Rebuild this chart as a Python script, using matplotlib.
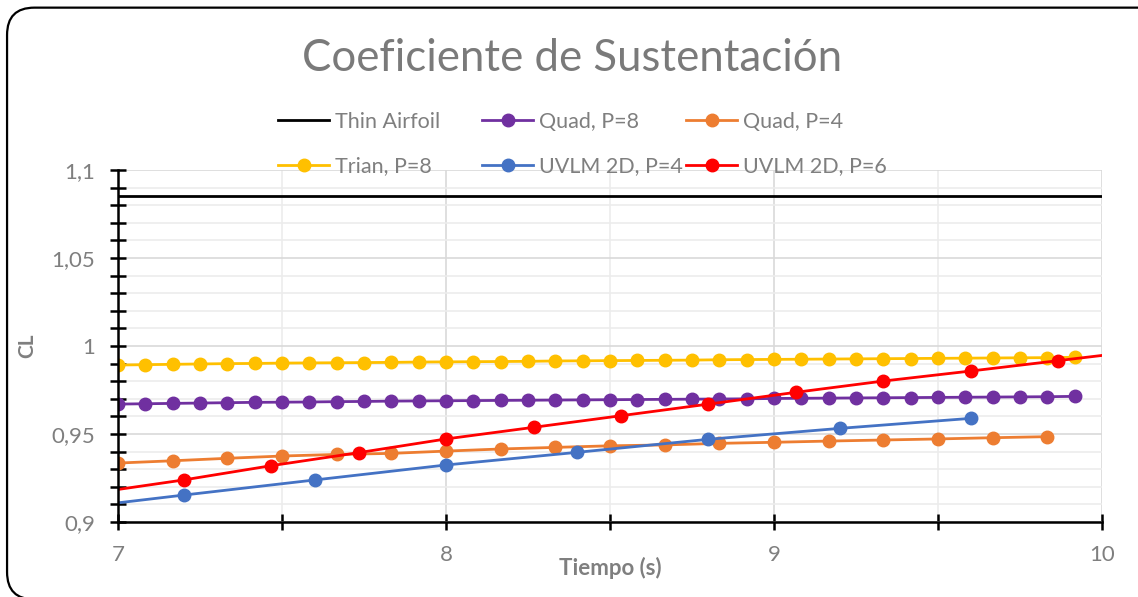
import matplotlib
matplotlib.use("Agg")
import matplotlib.pyplot as plt
from matplotlib.patches import FancyBboxPatch
from matplotlib.ticker import MultipleLocator, FixedLocator

# Coeficiente de sustentacion CL vs tiempo

thin_x = [7.0, 10.0]
thin_cl = [1.0852, 1.0852]

# Quad P=8 y Trian P=8 (paso 1/12)
p8_x = [7.000, 7.083, 7.167, 7.250, 7.333, 7.417, 7.500, 7.583, 7.667, 7.750,
        7.833, 7.917, 8.000, 8.083, 8.167, 8.250, 8.333, 8.417, 8.500, 8.583,
        8.667, 8.750, 8.833, 8.917, 9.000, 9.083, 9.167, 9.250, 9.333, 9.417,
        9.500, 9.583, 9.667, 9.750, 9.833, 9.917]
quad8_cl = [0.9670, 0.9672, 0.9674, 0.9676, 0.9678, 0.9680, 0.9681, 0.9682, 0.9684, 0.9685,
            0.9687, 0.9688, 0.9689, 0.9690, 0.9691, 0.9692, 0.9693, 0.9694, 0.9695, 0.9696,
            0.9697, 0.9698, 0.9699, 0.9700, 0.9702, 0.9703, 0.9704, 0.9705, 0.9706, 0.9707,
            0.9708, 0.9709, 0.9710, 0.9711, 0.9712, 0.9714]
trian8_cl = [0.9892, 0.9894, 0.9896, 0.9898, 0.9900, 0.9901, 0.9903, 0.9904, 0.9905, 0.9906,
             0.9907, 0.9909, 0.9910, 0.9911, 0.9912, 0.9913, 0.9915, 0.9916, 0.9917, 0.9918,
             0.9919, 0.9920, 0.9922, 0.9923, 0.9924, 0.9925, 0.9926, 0.9927, 0.9928, 0.9929,
             0.9930, 0.9931, 0.9932, 0.9933, 0.9934, 0.9936]

# Quad P=4 (paso 1/6)
quad4_x = [7.000, 7.167, 7.333, 7.500, 7.667, 7.833, 8.000, 8.167, 8.333, 8.500,
           8.667, 8.833, 9.000, 9.167, 9.333, 9.500, 9.667, 9.833]
quad4_cl = [0.9335, 0.9348, 0.9362, 0.9375, 0.9384, 0.9390, 0.9403, 0.9415, 0.9424, 0.9433,
            0.9438, 0.9447, 0.9453, 0.9460, 0.9466, 0.9472, 0.9479, 0.9485]

# UVLM 2D
uvlm4_x = [6.8, 7.2, 7.6, 8.0, 8.4, 8.8, 9.2, 9.6]
uvlm4_cl = [0.9065, 0.9153, 0.9239, 0.9324, 0.9396, 0.9470, 0.9532, 0.9589]

uvlm6_x = [6.9333, 7.2, 7.4667, 7.7333, 8.0, 8.2667, 8.5333, 8.8, 9.0667,
           9.3333, 9.6, 9.8667, 10.1333]
uvlm6_cl = [0.9167, 0.9239, 0.9320, 0.9394, 0.9472, 0.9538, 0.9604, 0.9670, 0.9737,
            0.9801, 0.9858, 0.9917, 0.9976]

gray = '#7f7f7f'
plt.rcParams['font.family'] = ['Lato', 'DejaVu Sans']

fig = plt.figure(figsize=(11.38, 5.97), dpi=100)
ax = fig.add_axes([0.1037, 0.1256, 0.8647, 0.5896])

# borde redondeado del grafico
fig.patches.append(FancyBboxPatch((0.0062, -0.004), 1.03, 0.9912, boxstyle='round,pad=0,rounding_size=0.024',
                                  transform=fig.transFigure, fill=False, edgecolor='black',
                                  linewidth=1.6, mutation_aspect=1138 / 597))

ms = 9
lw = 2
h_thin, = ax.plot(thin_x, thin_cl, color='black', linewidth=lw, label='Thin Airfoil')
h_q8, = ax.plot(p8_x, quad8_cl, color='#7030A0', marker='o', markersize=ms, linewidth=lw, label='Quad, P=8')
h_q4, = ax.plot(quad4_x, quad4_cl, color='#ED7D31', marker='o', markersize=ms, linewidth=lw, label='Quad, P=4')
h_t8, = ax.plot(p8_x, trian8_cl, color='#FFC000', marker='o', markersize=ms, linewidth=lw, label='Trian, P=8')
h_u4, = ax.plot(uvlm4_x, uvlm4_cl, color='#4472C4', marker='o', markersize=ms, linewidth=lw, label='UVLM 2D, P=4')
h_u6, = ax.plot(uvlm6_x, uvlm6_cl, color='#FF0000', marker='o', markersize=ms, linewidth=lw, label='UVLM 2D, P=6')

ax.set_xlim(7, 10)
ax.set_ylim(0.9, 1.1)
ax.xaxis.set_minor_locator(FixedLocator([7.5, 8.5, 9.5]))
ax.yaxis.set_minor_locator(MultipleLocator(0.01))
ax.set_yticks([0.9, 0.95, 1.0, 1.05, 1.1])
ax.set_yticklabels(['0,9', '0,95', '1', '1,05', '1,1'])
ax.set_xticks([7, 8, 9, 10])
ax.set_xticklabels(['7', '8', '9', '10'])

ax.grid(True, which='major', color='#d9d9d9', linewidth=1.2)
ax.grid(True, which='minor', color='#ececec', linewidth=1.2)
ax.set_axisbelow(True)

for s in ['top', 'right']:
    ax.spines[s].set_visible(False)
for s in ['left', 'bottom']:
    ax.spines[s].set_color('black')
    ax.spines[s].set_linewidth(1.8)

ax.tick_params(axis='both', which='both', direction='inout', color='black', width=1.8, length=11,
               labelcolor=gray, labelsize=16)
ax.tick_params(axis='x', which='major', pad=11)
ax.tick_params(axis='y', which='major', pad=11)

ax.set_xlabel('Tiempo (s)', color=gray, fontsize=16, fontweight='bold', labelpad=-6)
ax.set_ylabel('CL', color=gray, fontsize=15, fontweight='bold', labelpad=10)

fig.text(0.503, 0.902, 'Coeficiente de Sustentación', ha='center', va='center',
         color='#7a7a7a', fontsize=31.5)

# leyenda en 3 columnas de igual ancho (como Excel)
cols = [([h_thin, h_t8], ['Thin Airfoil', 'Trian, P=8'], 278),
        ([h_q8, h_u4], ['Quad, P=8', 'UVLM 2D, P=4'], 482),
        ([h_q4, h_u6], ['Quad, P=4', 'UVLM 2D, P=6'], 686)]
for hs, labs, px in cols:
    leg = fig.legend(hs, labs, loc='center left', bbox_to_anchor=(px / 1138, 1 - 144 / 597),
                     frameon=False, fontsize=15.5, labelcolor=gray, handlelength=2.37,
                     handletextpad=0.28, labelspacing=1.15, borderpad=0, borderaxespad=0)

fig.savefig('out.png', dpi=100)
